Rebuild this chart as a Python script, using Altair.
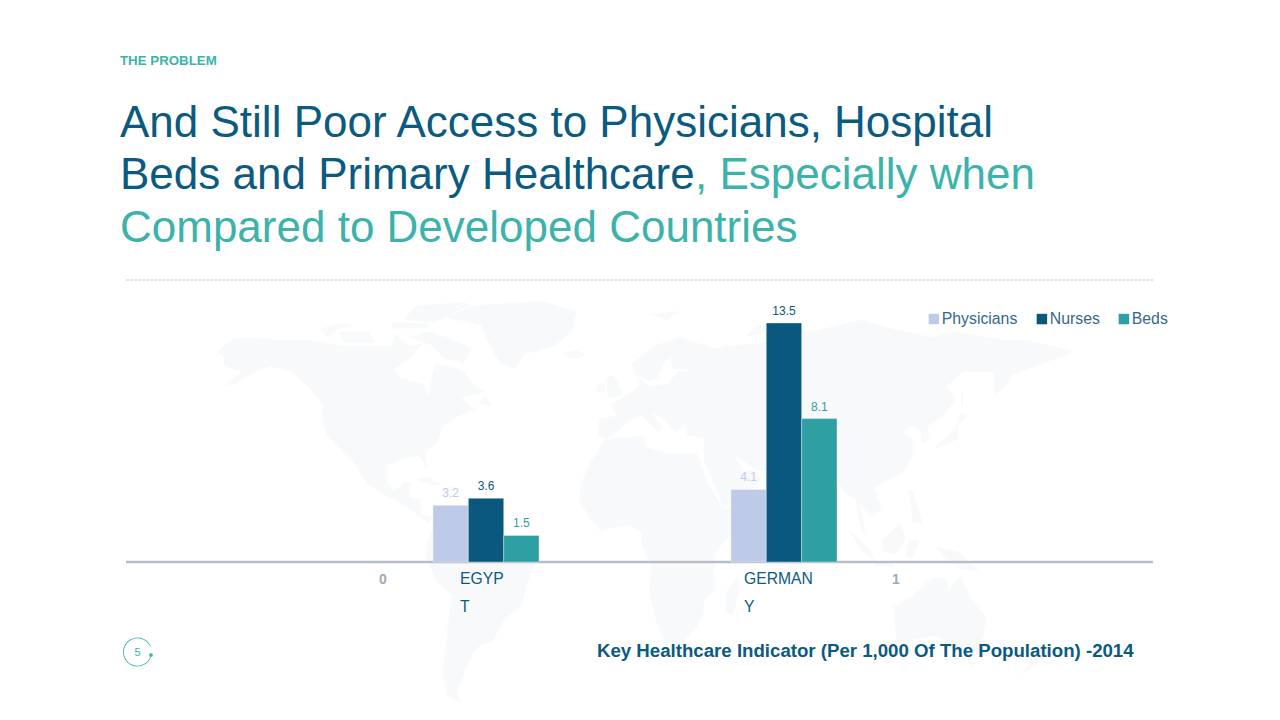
import altair as alt
import pandas as pd

# ---- chart data ----
countries = ["EGYPT", "GERMANY"]
series = ["Physicians", "Nurses", "Beds"]
physicians = [3.2, 4.1]
nurses = [3.6, 13.5]
beds = [1.5, 8.1]
series_colors = ["#bdcbe8", "#0a587e", "#2e9fa3"]

# ---- coarse backdrop geography (lon, lat) ----
north_america = [(-168,66),(-162,70),(-156,71),(-141,70),(-128,70),(-115,68),(-108,68),(-95,68),(-94,72),(-88,68),(-82,69),(-87,64),(-94,60),(-92,57),(-82,55),(-80,51),(-79,55),(-77,62),(-70,61),(-65,59),(-60,54),(-56,52),(-66,50),(-60,46),(-67,44),(-70,42),(-74,40),(-76,35),(-81,31),(-80,25),(-82,28),(-84,30),(-90,29),(-97,27),(-97,21),(-94,18),(-90,21),(-87,21),(-88,16),(-83,15),(-83,10),(-78,9),(-80,7),(-85,10),(-92,14),(-97,16),(-105,20),(-112,29),(-115,31),(-117,33),(-122,37),(-124,42),(-124,48),(-130,54),(-137,59),(-146,61),(-152,59),(-160,55),(-165,54),(-158,59),(-165,61),(-165,64)]
greenland = [(-73,78),(-60,82),(-33,83.5),(-18,80),(-20,73),(-27,68),(-40,65),(-44,60),(-50,62),(-54,68),(-58,75)]
baffin = [(-80,73),(-72,71),(-62,67),(-65,62),(-74,64),(-78,68),(-88,71)]
victoria = [(-117,73),(-105,73),(-102,69),(-115,69)]
ellesmere = [(-90,77),(-85,82),(-65,83),(-62,82),(-78,76)]
devon = [(-95,76),(-80,76),(-80,74),(-95,74)]
banks = [(-125,74),(-116,76),(-110,75),(-117,74),(-122,71)]
iceland = [(-24,65.5),(-18,66.5),(-14,65),(-18,63.5),(-22,64)]
newfoundland = [(-59,48),(-56,51),(-53,47)]
cuba = [(-85,22),(-80,23),(-74,20),(-78,20)]
hispaniola = [(-74,19),(-69,19.5),(-69,18),(-74,18)]
south_america = [(-78,9),(-72,12),(-62,10),(-52,5),(-50,0),(-44,-2),(-35,-6),(-39,-15),(-41,-22),(-48,-26),(-53,-34),(-58,-35),(-62,-39),(-65,-45),(-68,-52),(-66,-55),(-72,-53),(-74,-45),(-72,-30),(-70,-18),(-76,-14),(-81,-5),(-80,1),(-77,7)]
africa = [(-6,36),(10,37),(11,33),(20,31),(32,31),(34,27),(37,20),(43,12),(51,12),(48,5),(40,-3),(39,-10),(40,-16),(35,-20),(35,-24),(32,-29),(26,-34),(19,-35),(15,-27),(12,-17),(13,-8),(9,-1),(9,4),(4,6),(-4,5),(-8,4),(-13,9),(-17,15),(-16,21),(-13,27),(-9,32)]
madagascar = [(49,-12),(50,-16),(47,-25),(44,-24),(44,-17)]
eurasia = [(-9,37),(-9,43),(-1,44),(-4,48),(3,51),(8,54),(8,57),(12,54),(20,55),(24,59),(30,60),(22,60),(21,64),(24,66),(18,62),(16,57),(12,56),(6,58),(5,62),(14,68),(25,71),(40,67),(44,68),(60,69),(68,69),(68,73),(80,73),(100,77),(113,74),(130,71),(140,73),(160,70),(170,70),(190,66),(180,63),(170,60),(163,58),(162,55),(156,51),(156,59),(143,59),(136,54),(140,50),(135,44),(128,40),(129,36),(126,34),(125,39),(121,40),(118,38),(122,36),(122,30),(118,24),(110,21),(106,19),(109,12),(105,9),(100,13),(103,2),(100,6),(98,15),(94,17),(90,22),(80,15),(77,8),(73,19),(67,25),(57,25),(52,28),(48,30),(51,25),(56,25),(59,22),(52,16),(43,12),(39,21),(35,28),(35,36),(28,37),(27,41),(23,38),(19,42),(13,45),(18,40),(16,38),(9,44),(3,42),(0,39),(-5,36)]
britain = [(-5,50),(1,51),(0,54),(-3,58),(-6,57)]
ireland = [(-10,52),(-6,52),(-6,55),(-9,55)]
japan = [(130,32),(136,34),(141,36),(141,41),(145,44),(142,45),(140,40),(135,36)]
sakhalin = [(142,54),(143,50),(143,46),(142,48)]
sumatra = [(95,5),(104,-2),(106,-6),(101,-3)]
borneo = [(109,1),(117,7),(119,1),(115,-4),(110,-3)]
java = [(105,-6),(114,-7),(114,-8.5),(106,-8)]
sulawesi = [(119,-5),(120,1),(125,1),(122,-5)]
new_guinea = [(131,-1),(141,-3),(150,-10),(141,-9),(134,-4)]
philippines = [(120,18),(122,18),(126,7),(122,7),(121,13)]
sri_lanka = [(80,9.5),(82,7),(80.5,6)]
australia = [(114,-22),(122,-18),(130,-12),(136,-12),(137,-16),(142,-11),(146,-19),(153,-26),(150,-37),(144,-38),(138,-35),(131,-32),(124,-33),(115,-34)]
tasmania = [(145,-41),(148,-41),(147,-43.5)]
new_zealand = [(173,-35),(178,-38),(175,-41),(167,-46),(170,-42)]
novaya_zemlya = [(52,71),(57,75),(68,77),(58,72)]
svalbard = [(12,79),(25,80),(20,77)]
land = [north_america, greenland, baffin, victoria, ellesmere, devon, banks, iceland,
        newfoundland, cuba, hispaniola, south_america, africa, madagascar, eurasia,
        britain, ireland, japan, sakhalin, sumatra, borneo, java, sulawesi, new_guinea,
        philippines, sri_lanka, australia, tasmania, new_zealand, novaya_zemlya, svalbard]

# ---- texts ----
kicker = "THE PROBLEM"
title_line_1 = "And Still Poor Access to Physicians, Hospital"
title_line_2a = "Beds and Primary Healthcare"
title_line_2b = ", Especially when"
title_line_3 = "Compared to Developed Countries"
caption = "Key Healthcare Indicator (Per 1,000 Of The Population) -2014"
FONT = "Liberation Sans"
DARK = "#0b5a80"
TEAL = "#3cb3aa"
M = 8  # page margin


def feature(ring):
    pts = [[lon, lat * 1.208] for lon, lat in ring]
    pts = pts + [pts[0]]
    return {"type": "Feature", "properties": {},
            "geometry": {"type": "Polygon", "coordinates": [pts]}}


one = alt.Data(values=[{}])


def note(text, x, y, color, size, weight="normal", align="left"):
    return alt.Chart(one).mark_text(
        font=FONT, fontSize=size, fontWeight=weight, color=color,
        align=align, baseline="alphabetic"
    ).encode(x=alt.value(x - M), y=alt.value(y - M), text=alt.value(text))


rows = []
for i, c in enumerate(countries):
    for s, vals in zip(series, [physicians, nurses, beds]):
        rows.append({"country": c, "series": s, "value": vals[i]})
df = pd.DataFrame(rows)

x_enc = alt.X("country:N", sort=countries, axis=None,
              scale=alt.Scale(domain=countries, range=[425, 829],
                              paddingInner=0.644, paddingOuter=0))
xo_enc = alt.XOffset("series:N", sort=series, scale=alt.Scale(domain=series))
y_enc = alt.Y("value:Q", axis=None,
              scale=alt.Scale(domain=[0, 13.5], range=[554, 315], nice=False))
color_scale = alt.Scale(domain=series, range=series_colors)

world = alt.Chart(alt.Data(values=[feature(r) for r in land])).mark_geoshape(
    fill="#f8f9fa", stroke="#ffffff", strokeWidth=0.3
).project(type="identity", scale=2.4, translate=[612, 535], reflectY=True)

dash = alt.Chart(one).mark_rule(color="#c6c6c6", strokeWidth=1, strokeDash=[3, 1]).encode(
    x=alt.value(126 - M), x2=alt.value(1153 - M), y=alt.value(280 - M))
baseline = alt.Chart(one).mark_rule(color="#b7bec6", strokeWidth=2.5).encode(
    x=alt.value(126 - M), x2=alt.value(1153 - M), y=alt.value(562 - M))

bars = alt.Chart(df).mark_bar(stroke="#ffffff", strokeOpacity=0.35, strokeWidth=1).encode(
    x=x_enc, xOffset=xo_enc, y=y_enc,
    color=alt.Color("series:N", scale=color_scale, sort=series, legend=alt.Legend(
        orient="none", legendX=926 - M, legendY=311 - M, direction="horizontal", title=None,
        symbolType="square", symbolSize=110, symbolStrokeWidth=0,
        labelFont=FONT, labelFontSize=15.8, labelColor="#33688a", labelOffset=0,
        columnPadding=16)))

labels = alt.Chart(df).mark_text(font=FONT, fontSize=12, dy=-12).encode(
    x=x_enc, xOffset=xo_enc, y=y_enc,
    text=alt.Text("value:Q", format=".1f"),
    color=alt.Color("series:N", scale=color_scale, sort=series, legend=None))

ring = alt.Chart(one).mark_arc(radius=14.5, radius2=13.7, theta=1.8, theta2=7.45, color=TEAL).encode(
    x=alt.value(137.5 - M), y=alt.value(652 - M))
dot = alt.Chart(one).mark_point(filled=True, size=14, color=TEAL, opacity=1).encode(
    x=alt.value(151 - M), y=alt.value(655 - M))

chart = alt.layer(
    world, dash, baseline, bars, labels,
    note(kicker, 120, 65, TEAL, 13.3, "bold"),
    note(title_line_1, 120, 137, DARK, 44),
    note(title_line_2a, 120, 189, DARK, 44),
    note(title_line_2b, 695, 189, TEAL, 44),
    note(title_line_3, 120, 242, TEAL, 44),
    note("EGYP", 460, 584, DARK, 15.7),
    note("T", 460, 612, DARK, 15.7),
    note("GERMAN", 744, 584, DARK, 15.7),
    note("Y", 744, 612, DARK, 15.7),
    note("0", 383, 584, "#a3a9ae", 14, "bold", "center"),
    note("1", 896, 584, "#a3a9ae", 14, "bold", "center"),
    note(caption, 597, 657, DARK, 18.65, "bold"),
    ring, dot,
    note("5", 137.5, 656, TEAL, 11, "normal", "center"),
).properties(width=1264, height=704, padding=0, autosize="none").configure_view(stroke=None)

chart.save("out.html", embed_options={"renderer": "svg", "actions": False})
